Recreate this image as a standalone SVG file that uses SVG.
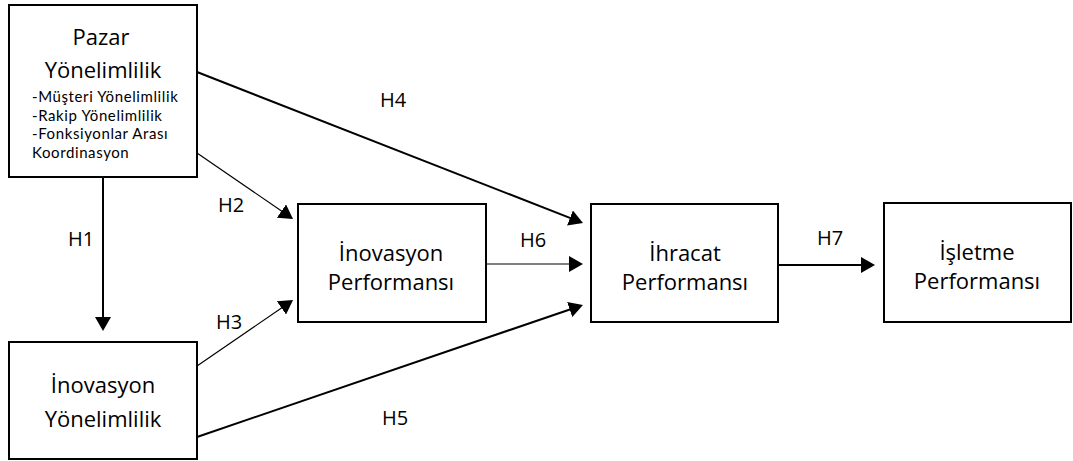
<svg xmlns="http://www.w3.org/2000/svg" width="1073" height="461" viewBox="0 0 1073 461">
<style>
.box{fill:#fff;stroke:#000;stroke-width:2}
.t{font-family:"Open Sans","Noto Sans","DejaVu Sans",sans-serif;font-size:22px;fill:#000;text-anchor:middle}
.s{font-family:Lato,"Open Sans",sans-serif;font-size:15px;letter-spacing:0.6px;fill:#000}
.lab{font-family:"Open Sans","Noto Sans","DejaVu Sans",sans-serif;font-size:20px;fill:#000}
.thick{stroke:#000;stroke-width:2;fill:none;marker-end:url(#ah)}
.thin{stroke:#000;stroke-width:1.2;fill:none;marker-end:url(#ah)}
</style>
<defs>
<marker id="ah" markerUnits="userSpaceOnUse" markerWidth="14" markerHeight="16" refX="4" refY="8" orient="auto">
<path d="M0,0 L14,8 L0,16 z" fill="#000"/>
</marker>
</defs>
<rect width="1073" height="461" fill="#fff"/>
<g id="connectors">
<line class="thick" x1="103" y1="177" x2="103" y2="321"/>
<line class="thin" x1="197" y1="153" x2="284.8" y2="213.3"/>
<line class="thin" x1="197" y1="366" x2="284.8" y2="305.7"/>
<line class="thick" x1="197" y1="72" x2="573.7" y2="219.4"/>
<line class="thick" x1="197" y1="437" x2="573.5" y2="308.2"/>
<line class="thin" x1="486" y1="264" x2="573" y2="264"/>
<line class="thick" x1="778" y1="265" x2="865" y2="265"/>
<text class="lab" x="68" y="246">H1</text>
<text class="lab" x="218" y="212">H2</text>
<text class="lab" x="216" y="329">H3</text>
<text class="lab" x="380" y="107">H4</text>
<text class="lab" x="382" y="425">H5</text>
<text class="lab" x="520" y="247">H6</text>
<text class="lab" x="817" y="245">H7</text>
</g>
<g id="pazar">
<rect class="box" x="9" y="5" width="188" height="172"/>
<text class="t" x="101" y="45">Pazar</text>
<text class="t" x="103" y="78">Yönelimlilik</text>
<text class="s" x="32" y="102">-Müşteri Yönelimlilik</text>
<text class="s" x="32" y="120.5">-Rakip Yönelimlilik</text>
<text class="s" x="32" y="139">-Fonksiyonlar Arası</text>
<text class="s" x="32" y="157.5">Koordinasyon</text>
</g>
<g id="inovasyon-yonelim">
<rect class="box" x="9" y="342" width="188" height="117"/>
<text class="t" x="103" y="393">İnovasyon</text>
<text class="t" x="103" y="427">Yönelimlilik</text>
</g>
<g id="inovasyon-perf">
<rect class="box" x="298" y="204" width="188" height="118"/>
<text class="t" x="391" y="261">İnovasyon</text>
<text class="t" x="391" y="290">Performansı</text>
</g>
<g id="ihracat">
<rect class="box" x="591" y="204" width="187" height="118"/>
<text class="t" x="685" y="261">İhracat</text>
<text class="t" x="685" y="290">Performansı</text>
</g>
<g id="isletme">
<rect class="box" x="884" y="203" width="187" height="119"/>
<text class="t" x="977" y="260">İşletme</text>
<text class="t" x="977" y="289">Performansı</text>
</g>
</svg>
